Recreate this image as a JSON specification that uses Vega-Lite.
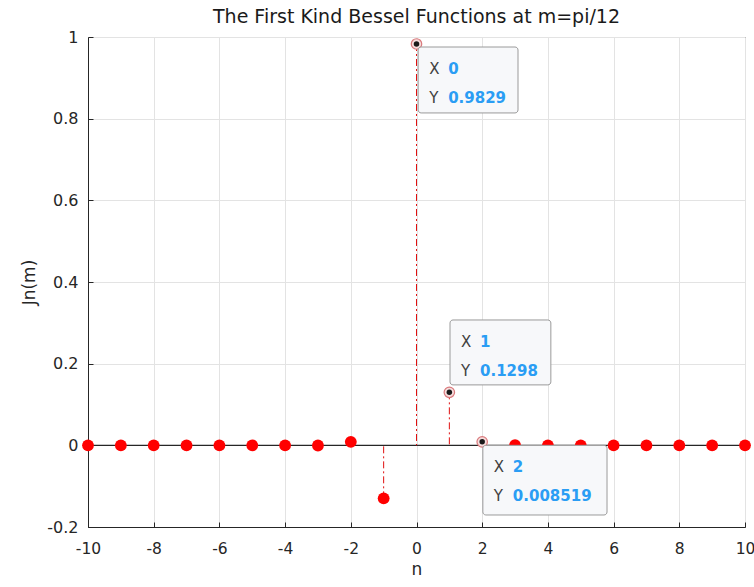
{
  "$schema": "https://vega.github.io/schema/vega-lite/v6.json",
  "width": 657,
  "height": 490,
  "autosize": {"type": "none"},
  "padding": {"left": 88, "top": 37, "right": 9, "bottom": 60},
  "background": "white",
  "config": {
    "font": "DejaVu Sans",
    "locale": {"number": {"decimal": ".", "thousands": ",", "grouping": [3], "currency": ["$", ""], "minus": "-"}},
    "view": {"stroke": "#262626", "strokeWidth": 1},
    "axis": {
      "domainColor": "#262626",
      "grid": true,
      "gridColor": "#e3e3e3",
      "gridOpacity": 1,
      "ticks": true,
      "tickColor": "#262626",
      "tickSize": -5,
      "labelColor": "#262626",
      "labelFontSize": 16,
      "labelFont": "DejaVu Sans",
      "labelFlush": false,
      "labelOverlap": false,
      "titleColor": "#262626",
      "titleFontSize": 17,
      "titleFontWeight": "normal",
      "titleFont": "DejaVu Sans"
    }
  },
  "title": {
    "text": "The First Kind Bessel Functions at m=pi/12",
    "font": "DejaVu Sans",
    "fontSize": 19,
    "fontWeight": "normal",
    "color": "#1a1a1a",
    "anchor": "middle",
    "frame": "group",
    "offset": 2
  },
  "datasets": {
    "bessel": [
      {"n": -10, "J": 0},
      {"n": -9, "J": 0},
      {"n": -8, "J": 0},
      {"n": -7, "J": 0},
      {"n": -6, "J": 0},
      {"n": -5, "J": 0},
      {"n": -4, "J": 0.0000122},
      {"n": -3, "J": -0.000372},
      {"n": -2, "J": 0.008519},
      {"n": -1, "J": -0.1298},
      {"n": 0, "J": 0.9829},
      {"n": 1, "J": 0.1298},
      {"n": 2, "J": 0.008519},
      {"n": 3, "J": 0.000372},
      {"n": 4, "J": 0.0000122},
      {"n": 5, "J": 0},
      {"n": 6, "J": 0},
      {"n": 7, "J": 0},
      {"n": 8, "J": 0},
      {"n": 9, "J": 0},
      {"n": 10, "J": 0}
    ],
    "baseline": [{"base": 0}],
    "tips": [
      {"n": 0, "J": 0.9829, "xs": "0", "ys": "0.9829", "left": 0.05, "right": 3.09, "top": 0.9755, "bottom": 0.814},
      {"n": 1, "J": 0.1298, "xs": "1", "ys": "0.1298", "left": 1.02, "right": 4.09, "top": 0.307, "bottom": 0.148},
      {"n": 2, "J": 0.008519, "xs": "2", "ys": "0.008519", "left": 2.02, "right": 5.8, "top": 0.0, "bottom": -0.1706}
    ]
  },
  "layer": [
    {
      "data": {"name": "baseline"},
      "mark": {"type": "rule", "color": "#262626", "strokeWidth": 1.2},
      "encoding": {
        "y": {
          "field": "base",
          "type": "quantitative",
          "scale": {"domain": [-0.2, 1], "nice": false, "zero": false},
          "axis": {
            "title": "Jn(m)",
            "values": [-0.2, 0, 0.2, 0.4, 0.6, 0.8, 1],
            "format": "~g",
            "labelPadding": 15,
            "titlePadding": 8
          }
        }
      }
    },
    {
      "data": {"name": "bessel"},
      "mark": {"type": "rule", "color": "#e01010", "strokeWidth": 1, "strokeDash": [7, 3, 2, 3]},
      "encoding": {
        "x": {
          "field": "n",
          "type": "quantitative",
          "scale": {"domain": [-10, 10], "nice": false, "zero": false},
          "axis": {
            "title": "n",
            "values": [-10, -8, -6, -4, -2, 0, 2, 4, 6, 8, 10],
            "labelFontSize": 15.5,
            "labelPadding": 19,
            "titlePadding": 5
          }
        },
        "y": {"field": "J", "type": "quantitative"},
        "y2": {"datum": 0}
      }
    },
    {
      "data": {"name": "bessel"},
      "transform": [{"filter": {"not": {"field": "n", "oneOf": [0, 1, 2]}}}],
      "mark": {"type": "circle", "color": "#ff0000", "opacity": 1, "size": 140},
      "encoding": {
        "x": {"field": "n", "type": "quantitative"},
        "y": {"field": "J", "type": "quantitative"}
      }
    },
    {
      "data": {"name": "tips"},
      "mark": {"type": "point", "shape": "circle", "filled": true, "fill": "#f6dcdc", "stroke": "#d9797c", "strokeWidth": 1.2, "opacity": 1, "size": 110},
      "encoding": {
        "x": {"field": "n", "type": "quantitative"},
        "y": {"field": "J", "type": "quantitative"}
      }
    },
    {
      "data": {"name": "tips"},
      "mark": {"type": "circle", "color": "#1a1a1a", "opacity": 1, "size": 30},
      "encoding": {
        "x": {"field": "n", "type": "quantitative"},
        "y": {"field": "J", "type": "quantitative"}
      }
    },
    {
      "data": {"name": "tips"},
      "mark": {"type": "rect", "fill": "#f7f8fa", "stroke": "#9a9a9a", "strokeWidth": 1, "cornerRadius": 3, "opacity": 1},
      "encoding": {
        "x": {"field": "left", "type": "quantitative"},
        "x2": {"field": "right"},
        "y": {"field": "top", "type": "quantitative"},
        "y2": {"field": "bottom"}
      }
    },
    {
      "data": {"name": "tips"},
      "mark": {"type": "text", "align": "left", "baseline": "middle", "dx": 11, "dy": 22, "fontSize": 15, "color": "#404040"},
      "encoding": {
        "x": {"field": "left", "type": "quantitative"},
        "y": {"field": "top", "type": "quantitative"},
        "text": {"value": "X"}
      }
    },
    {
      "data": {"name": "tips"},
      "mark": {"type": "text", "align": "left", "baseline": "middle", "dx": 11, "dy": 51, "fontSize": 15, "color": "#404040"},
      "encoding": {
        "x": {"field": "left", "type": "quantitative"},
        "y": {"field": "top", "type": "quantitative"},
        "text": {"value": "Y"}
      }
    },
    {
      "data": {"name": "tips"},
      "mark": {"type": "text", "align": "left", "baseline": "middle", "dx": 30, "dy": 22, "fontSize": 15, "fontWeight": "bold", "color": "#2a9df4"},
      "encoding": {
        "x": {"field": "left", "type": "quantitative"},
        "y": {"field": "top", "type": "quantitative"},
        "text": {"field": "xs"}
      }
    },
    {
      "data": {"name": "tips"},
      "mark": {"type": "text", "align": "left", "baseline": "middle", "dx": 30, "dy": 51, "fontSize": 15, "fontWeight": "bold", "color": "#2a9df4"},
      "encoding": {
        "x": {"field": "left", "type": "quantitative"},
        "y": {"field": "top", "type": "quantitative"},
        "text": {"field": "ys"}
      }
    }
  ]
}
